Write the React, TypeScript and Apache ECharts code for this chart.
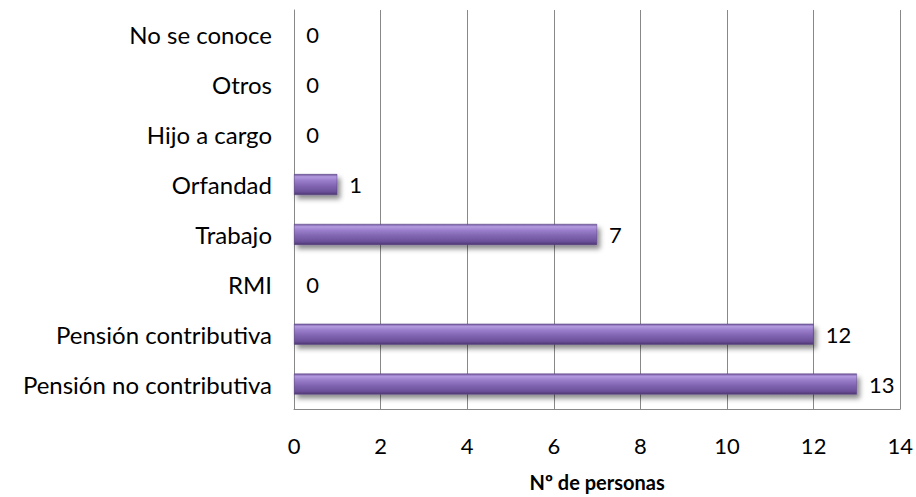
import React, { useEffect, useRef } from "react";
import * as echarts from "echarts";

const categories = [
  "Pensión no contributiva",
  "Pensión contributiva",
  "RMI",
  "Trabajo",
  "Orfandad",
  "Hijo a cargo",
  "Otros",
  "No se conoce",
];
const values = [13, 12, 0, 7, 1, 0, 0, 0];
const axisName = "Nº de personas";

export default function App() {
  const ref = useRef<HTMLDivElement>(null);
  useEffect(() => {
    const chart = echarts.init(ref.current!, null, { renderer: "svg" });
    const font = "Lato, 'Open Sans', sans-serif";
    chart.setOption({
      animation: false,
      backgroundColor: "#ffffff",
      grid: { left: 294, right: 15, top: 10, bottom: 77, containLabel: false },
      xAxis: {
        type: "value",
        min: 0,
        max: 14,
        interval: 2,
        name: axisName,
        nameLocation: "middle",
        nameGap: 63,
        nameTextStyle: { fontFamily: font, fontSize: 20, fontWeight: "bold", color: "#000" },
        axisLine: { show: true, lineStyle: { color: "#888", width: 1 } },
        axisTick: { show: false },
        axisLabel: { fontFamily: font, fontSize: 22, color: "#000", margin: 25 },
        splitLine: { show: true, lineStyle: { color: "#888", width: 1 } },
      },
      yAxis: {
        type: "category",
        data: categories,
        axisLine: { show: true, lineStyle: { color: "#888", width: 1 } },
        axisTick: { show: false },
        axisLabel: { fontFamily: font, fontSize: 24, color: "#000", margin: 22 },
        splitLine: { show: false },
      },
      series: [
        {
          type: "bar",
          data: values,
          barWidth: 21,
          itemStyle: {
            color: new echarts.graphic.LinearGradient(0, 0, 0, 1, [
              { offset: 0, color: "#6f559b" },
              { offset: 0.12, color: "#b39be0" },
              { offset: 0.3, color: "#9a7ecb" },
              { offset: 0.55, color: "#8266b3" },
              { offset: 0.85, color: "#6b5099" },
              { offset: 1, color: "#4c3670" },
            ]),
            borderColor: "#5a4282",
            borderWidth: 0.5,
            shadowColor: "rgba(0,0,0,0.45)",
            shadowBlur: 5,
            shadowOffsetX: 3,
            shadowOffsetY: 4,
          },
          label: {
            show: true,
            position: "right",
            distance: 12,
            fontFamily: font,
            fontSize: 22,
            color: "#000",
          },
        },
      ],
    });
    return () => chart.dispose();
  }, []);
  return (
    <div style={{ position: "fixed", left: 0, top: 0, width: 916, height: 497, margin: 0, padding: 0 }}>
      <div ref={ref} style={{ width: 916, height: 497 }} />
    </div>
  );
}
